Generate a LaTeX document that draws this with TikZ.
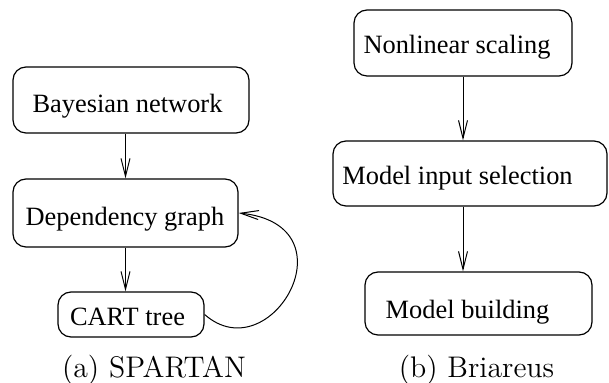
\documentclass[tikz,border=0pt]{standalone}
\usepackage{fontspec}
\newfontfamily\boxfont{Liberation Serif}
\usetikzlibrary{arrows.meta}
\begin{document}
\begin{tikzpicture}[x=0.5pt,y=-0.5pt,
  box/.style={draw, line width=0.6pt, rounded corners=6.5pt, inner sep=0pt},
  lbl/.style={font=\boxfont\fontsize{13.2}{15}\selectfont, inner sep=0pt, anchor=base},
  captext/.style={font=\fontsize{14.9}{17}\selectfont, inner sep=0pt, anchor=base},
  arr/.style={line width=0.5pt, -{Straight Barb[length=9pt,width=4.5pt]}}]
\useasboundingbox (0,0) rectangle (609,383);
% (a) SPARTAN
\node[box, minimum width=118pt, minimum height=33pt] (bn) at (131,100) {};
\node[lbl] (bnt) at ([xshift=-1.75pt, yshift=-6.35pt]bn.center) {Bayesian network};
\node[box, minimum width=112.5pt, minimum height=34pt] (dep) at (125.5,213) {};
\node[lbl] (dept) at ([xshift=-0.25pt, yshift=-6.5pt]dep.center) {Dependency graph};
\node[box, minimum width=73pt, minimum height=22.5pt] (cart) at (131,314.5) {};
\node[lbl] (cartt) at ([xshift=-1.75pt, yshift=-5.75pt]cart.center) {CART tree};
\draw[arr] (bn.south -| dep.center) -- (dep.north);
\draw[arr] (dep.south) -- (dep.south |- cart.north);
\draw[arr] (cart.east) .. controls +(66,58) and +(117,12) .. (dep.east);
\node[captext] (capa) at (154,377.7) {(a) SPARTAN};
% (b) Briareus
\node[box, minimum width=109pt, minimum height=33pt] (ns) at (463,43) {};
\node[lbl] (nst) at ([xshift=-3pt, yshift=-5.15pt]ns.center) {Nonlinear scaling};
\node[box, minimum width=137pt, minimum height=32.5pt] (mis) at (470,173.5) {};
\node[lbl] (mist) at ([xshift=-6.25pt, yshift=-5.75pt]mis.center) {Model input selection};
\node[box, minimum width=113.5pt, minimum height=31.5pt] (mb) at (478.5,303.5) {};
\node[lbl] (mbt) at ([xshift=-5.5pt, yshift=-7.4pt]mb.center) {Model building};
\draw[arr] (ns.south) -- (ns.south |- mis.north);
\draw[arr] (ns.south |- mis.south) -- (ns.south |- mb.north);
\node[captext] (capb) at (476.5,377.7) {(b) Briareus};
\end{tikzpicture}
\end{document}
